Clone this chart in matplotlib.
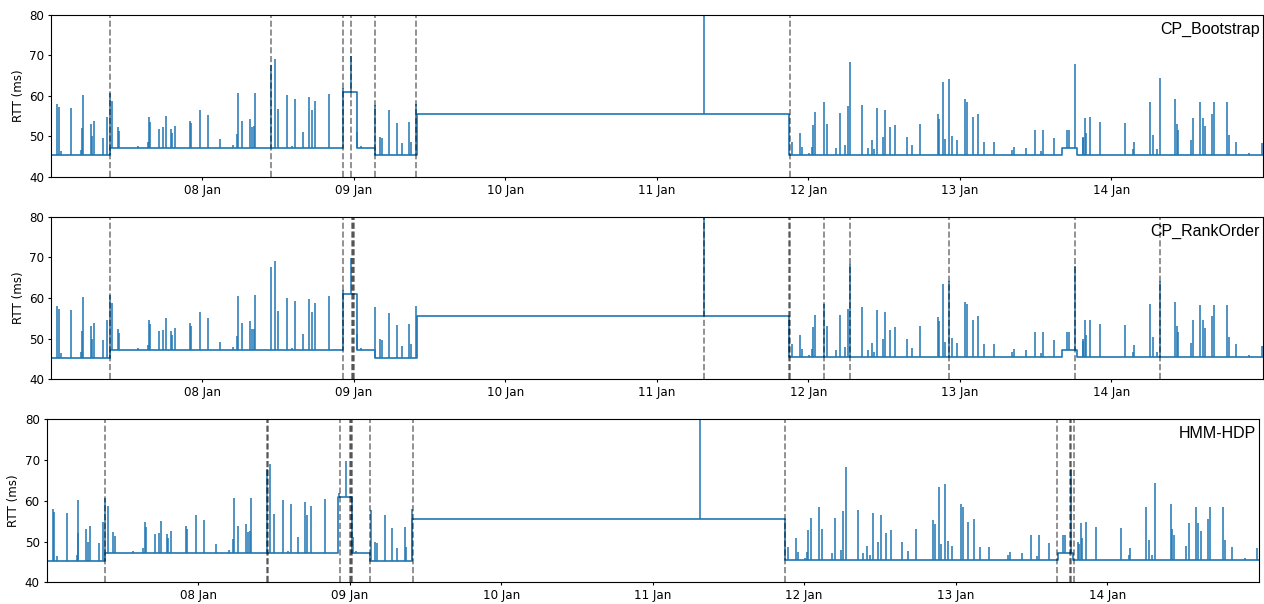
import numpy as np
import matplotlib
matplotlib.use('Agg')
import matplotlib.pyplot as plt
import matplotlib.dates as mdates
import datetime as dt

# start of the series (x axis runs 07 Jan 00:00 -> 15 Jan 00:00)
start = mdates.date2num(dt.datetime(2020, 1, 7))

# baseline RTT levels, hours since start
seg_start = [0.0, 9.3, 46.22, 48.44, 51.29, 57.94, 116.98, 160.16, 162.53]
seg_end = [9.3, 46.22, 48.44, 51.29, 57.94, 116.98, 160.16, 162.53, 192.0]
seg_level = [45.3, 47.15, 61.0, 47.1, 45.3, 55.6, 45.4, 47.2, 45.4]

# spikes: hour and peak RTT (ms)
spike_hours = [0.95, 1.22, 1.58, 3.17, 4.80, 4.90, 5.01, 6.28, 6.49, 6.81,
               8.28, 8.87, 9.29, 9.66, 10.56, 10.81, 13.72, 15.30, 15.51, 15.67,
               17.10, 17.78, 18.16, 19.04, 19.15, 19.63, 22.05, 22.21, 23.64, 24.85,
               26.86, 28.86, 29.49, 29.65, 30.28, 31.61, 31.87, 32.14, 32.40, 34.83,
               35.46, 35.94, 37.47, 38.20, 38.63, 39.89, 40.95, 41.32, 41.90, 44.12,
               46.28, 47.49, 48.55, 49.07, 51.40, 52.08, 52.40, 53.62, 54.77, 55.57,
               56.78, 56.99, 57.89,
               103.5,
               117.41, 118.73, 118.99, 120.15, 120.52, 120.68, 121.05, 122.41, 122.89, 124.38,
               124.95, 125.86, 126.22, 126.60, 128.50, 129.39, 130.02, 130.40, 130.92, 131.76,
               132.14, 132.98, 133.72, 135.56, 136.41, 137.68, 140.46, 140.68, 141.36, 141.63,
               142.27, 142.74, 143.47, 144.80, 145.12, 146.01, 146.86, 147.86, 149.34, 152.25,
               152.62, 154.47, 155.89, 156.84, 157.20, 158.83, 161.00, 161.26, 162.21, 163.42,
               163.53, 163.80, 163.96, 164.64, 166.22, 170.18, 171.45, 171.56, 174.09, 174.57,
               175.14, 175.61, 178.10, 178.31, 178.57, 180.52, 180.89, 182.00, 182.42, 182.79,
               183.95, 184.22, 186.28, 186.67, 187.72, 189.83, 191.80]
spike_peaks = [58.0, 57.3, 46.5, 57.0, 46.7, 52.0, 60.3, 53.0, 50.0, 53.8,
               49.6, 54.7, 60.8, 58.8, 52.3, 51.4, 47.7, 48.5, 54.7, 53.6,
               51.8, 52.2, 55.0, 51.8, 50.8, 52.6, 53.8, 53.2, 56.5, 55.2,
               49.3, 48.0, 50.6, 60.6, 53.8, 54.3, 52.3, 52.5, 60.7, 67.7,
               69.0, 56.8, 60.1, 47.7, 59.2, 51.1, 59.7, 56.5, 58.8, 60.5,
               62.0, 69.8, 51.1, 47.6, 57.8, 49.8, 49.6, 56.4, 53.3, 48.3,
               53.5, 48.6, 58.0,
               95.0,
               48.7, 50.8, 47.5, 46.0, 47.5, 52.8, 55.9, 58.6, 53.1, 47.1,
               55.7, 47.9, 57.4, 68.3, 57.7, 47.1, 49.0, 46.8, 57.0, 49.8,
               56.5, 52.2, 52.8, 49.9, 47.8, 53.0, 55.4, 54.4, 63.5, 49.3,
               64.1, 50.1, 49.0, 59.1, 58.6, 54.7, 55.6, 48.6, 48.6, 46.7,
               47.4, 47.1, 51.7, 46.5, 51.6, 49.6, 51.6, 51.6, 67.9, 49.9,
               49.5, 54.5, 50.8, 54.7, 53.6, 53.4, 46.8, 48.5, 58.6, 50.3,
               46.8, 64.3, 59.1, 53.1, 51.7, 49.0, 54.6, 58.4, 54.6, 52.6,
               55.5, 58.4, 58.4, 50.3, 48.6, 46.0, 48.3]

# detected change points (hours) for each method
cp_bootstrap = [9.3, 34.8, 46.2, 47.5, 51.4, 57.9, 117.0]
cp_rankorder = [9.3, 46.2, 47.7, 47.85, 47.95, 103.5, 116.85, 117.15, 122.4, 126.6,
                142.3, 162.3, 175.7]
cp_hmm = [9.28, 34.83, 34.99, 46.43, 48.02, 48.17, 48.33, 51.18, 58.1, 117.0,
          160.1, 162.1, 162.3, 162.8]

methods = ['CP_Bootstrap', 'CP_RankOrder', 'HMM-HDP']
changepoints = [cp_bootstrap, cp_rankorder, cp_hmm]

# axes boxes in figure fractions (left, bottom, width, height)
boxes = [[0.0403, 0.7070, 0.9589, 0.2687],
         [0.0403, 0.3720, 0.9589, 0.2692],
         [0.0369, 0.0359, 0.9589, 0.2699]]

blue = '#1f77b4'

# baseline as steps
step_x, step_y = [], []
for s, e, l in zip(seg_start, seg_end, seg_level):
    step_x += [s, e]
    step_y += [l, l]
step_x = start + np.array(step_x) / 24.0
step_y = np.array(step_y)

sh = np.array(spike_hours)
idx = np.searchsorted(np.array(seg_start), sh, side='right') - 1
spike_base = np.array(seg_level)[idx]
spike_x = start + sh / 24.0

fig = plt.figure(figsize=(12.64, 6.04), dpi=100)

for box, name, cps in zip(boxes, methods, changepoints):
    ax = fig.add_axes(box)
    ax.plot(step_x, step_y, color=blue, lw=1.2)
    ax.vlines(spike_x, spike_base, spike_peaks, color=blue, lw=1.1)
    for c in cps:
        ax.axvline(start + c / 24.0, color='k', alpha=0.5, ls='--', lw=1.2)
    ax.set_xlim(start, start + 8)
    ax.set_ylim(40, 80)
    ax.set_yticks([40, 50, 60, 70, 80])
    ax.set_xticks([start + d for d in range(1, 8)])
    ax.xaxis.set_major_formatter(mdates.DateFormatter('%d %b'))
    ax.tick_params(labelsize=8.6, length=2.5, pad=2.5)
    ax.set_ylabel('RTT (ms)', fontsize=8.6, labelpad=3)
    ax.text(0.9975, 0.957, name, transform=ax.transAxes, ha='right', va='top',
            fontsize=11.5, family='Liberation Sans')

fig.savefig('out.png', dpi=100)
